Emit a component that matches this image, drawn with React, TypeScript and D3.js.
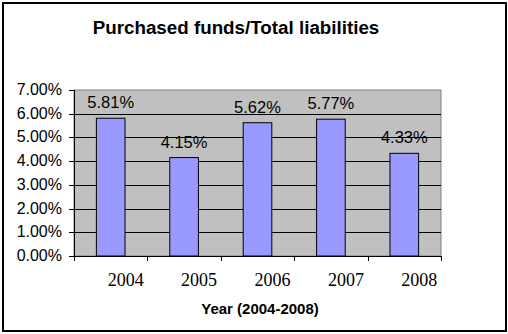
import React from "react";
import * as d3 from "d3";

const years = ["2004", "2005", "2006", "2007", "2008"];
const values = [5.81, 4.15, 5.62, 5.77, 4.33];
const yTicks = [0, 1, 2, 3, 4, 5, 6, 7];
const title = "Purchased funds/Total liabilities";
const xTitle = "Year (2004-2008)";

export default function App() {
  const W = 508, H = 334;
  const left = 74, right = 441, top = 90, bottom = 256;
  const x = d3.scaleBand().domain(years).range([left, right]).paddingInner(0.61).paddingOuter(0.305);
  const xb = d3.scaleBand().domain(years).range([left, right]);
  const y = d3.scaleLinear().domain([0, 7]).range([bottom, top]);
  const fmt = (v: number) => v.toFixed(2) + "%";
  const boundaries = [...years.map((d) => xb(d)!), right];
  return (
    <svg width={W} height={H} style={{ position: "absolute", left: 0, top: 0 }}>
      <rect x={0} y={0} width={W} height={H} fill="#fff" />
      <rect x={3} y={3} width={503} height={328} fill="#fff" stroke="#000" strokeWidth={2} />
      <text x={236} y={34} textAnchor="middle" fontFamily="Liberation Sans, Arial" fontWeight="bold" fontSize={18.8}>
        {title}
      </text>
      <rect x={left} y={top} width={right - left} height={bottom - top} fill="#C0C0C0" stroke="#808080" strokeWidth={1} />
      {yTicks.filter((t) => t > 0 && t < 7).map((t) => (
        <line key={t} x1={left} x2={right} y1={Math.round(y(t)) + 0.5} y2={Math.round(y(t)) + 0.5} stroke="#000" />
      ))}
      {years.map((d, i) => (
        <rect key={d} x={x(d)!} y={y(values[i])} width={x.bandwidth()} height={bottom - y(values[i])} fill="#9999FF" stroke="#000" strokeWidth={1} />
      ))}
      {years.map((d, i) => (
        <text key={d} x={xb(d)! + xb.bandwidth() / 2} y={y(values[i]) - 10} textAnchor="middle" fontFamily="Liberation Sans, Arial" fontSize={16.5}>
          {fmt(values[i])}
        </text>
      ))}
      <line x1={left + 0.5} x2={left + 0.5} y1={top} y2={bottom} stroke="#000" />
      <line x1={left} x2={right} y1={bottom + 0.5} y2={bottom + 0.5} stroke="#000" />
      {yTicks.map((t) => (
        <g key={t}>
          <line x1={left - 5} x2={left} y1={Math.round(y(t)) + 0.5} y2={Math.round(y(t)) + 0.5} stroke="#000" />
          <text x={62} y={y(t) + 5} textAnchor="end" fontFamily="Liberation Sans, Arial" fontSize={16}>
            {fmt(t)}
          </text>
        </g>
      ))}
      {boundaries.map((b, i) => (
        <line key={i} x1={Math.round(b) + 0.5} x2={Math.round(b) + 0.5} y1={bottom} y2={bottom + 5} stroke="#000" />
      ))}
      {years.map((d) => (
        <text key={d} x={xb(d)! + xb.bandwidth() / 2 + 15} y={286} textAnchor="middle" fontFamily="Liberation Serif, serif" fontSize={18}>
          {d}
        </text>
      ))}
      <text x={260} y={314} textAnchor="middle" fontFamily="Liberation Sans, Arial" fontWeight="bold" fontSize={15}>
        {xTitle}
      </text>
    </svg>
  );
}
